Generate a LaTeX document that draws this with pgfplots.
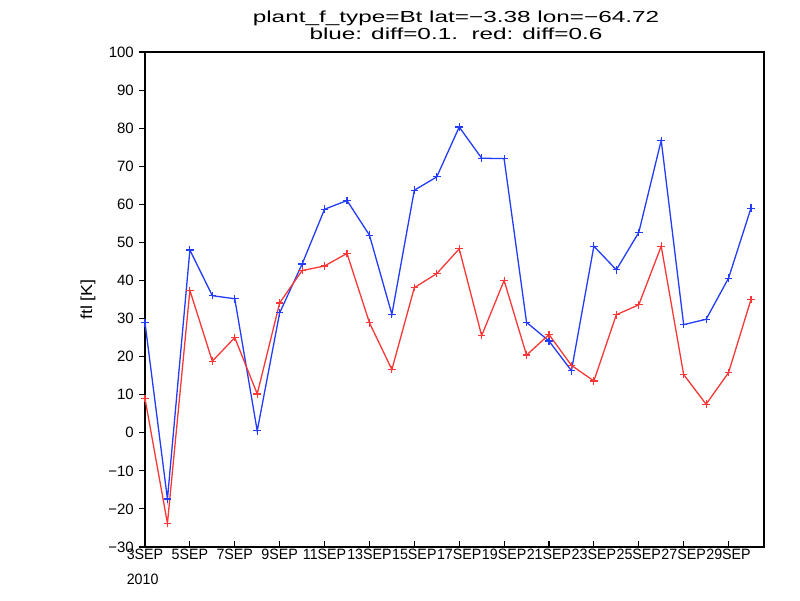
\documentclass[border=0pt]{standalone}
\usepackage{fontspec}
\setmainfont{Liberation Sans}
\newfontfamily\xfont{Liberation Sans}[FakeStretch=0.95]
\newfontfamily\tfont{Liberation Sans}[FakeStretch=1.52]
\newfontfamily\lfont{Liberation Sans}[FakeStretch=1.12]
\usepackage{pgfplots}
\pgfplotsset{compat=1.18}

\definecolor{gblue}{RGB}{35,60,250}
\definecolor{gred}{RGB}{250,55,55}

% daily values, 3 to 30 SEP 2010
\pgfplotstableread{
day blue red
3  28.9   9.0
4  -17.4 -23.8
5  48.0  37.4
6  36.0  18.8
7  35.2  25.0
8  0.5   10.2
9  31.5  34.1
10 44.3  42.6
11 58.7  43.8
12 61.0  47.1
13 51.9  28.9
14 31.1  16.6
15 63.7  38.1
16 67.2  41.8
17 80.3  48.3
18 72.1  25.5
19 72.0  40.0
20 29.0  20.4
21 24.1  25.8
22 16.3  17.7
23 49.0  13.6
24 42.8  31.0
25 52.6  33.6
26 76.8  49.0
27 28.4  15.3
28 29.8   7.5
29 40.6  15.8
30 59.0  35.0
}\ftl

\begin{document}
\begin{tikzpicture}[x=1pt,y=1pt]
\useasboundingbox (-145,-53) rectangle (655,547);
\begin{axis}[
    at={(0,0)}, anchor=south west,
    scale only axis,
    width=619pt, height=495pt,
    xmin=3, xmax=30.58,
    ymin=-30, ymax=100,
    xtick={3,5,...,29},
    xticklabels={3SEP\\2010,5SEP,7SEP,9SEP,11SEP,13SEP,15SEP,17SEP,19SEP,21SEP,23SEP,25SEP,27SEP,29SEP},
    ytick={-30,-20,...,100},
    yticklabels={−30,−20,−10,0,10,20,30,40,50,60,70,80,90,100},
    xtick pos=bottom, ytick pos=left,
    tick align=inside,
    major tick length=6pt,
    minor tick num=0,
    tick style={black, line width=1.1pt},
    ytick style={xshift=-6pt},
    axis line style={line width=1.5pt},
    xticklabel style={font=\xfont\fontsize{15}{25.5}\selectfont, align=left, anchor=north, inner sep=0pt, yshift=-1.5pt},
    yticklabel style={font=\fontsize{15}{18}\selectfont, anchor=east, inner sep=0pt, xshift=-11pt},
    ylabel={ftl [K]},
    ylabel style={font=\lfont\fontsize{16}{18}\selectfont, at={(axis description cs:-0.092,0.5)}, anchor=center},
]
\addplot[color=gblue, line width=1.3pt, mark=+, mark size=3.8pt, mark options={line width=1.2pt}] table[x=day, y=blue] {\ftl};
\addplot[color=gred, line width=1.3pt, mark=+, mark size=3.8pt, mark options={line width=1.2pt}] table[x=day, y=red] {\ftl};
\end{axis}
\node[anchor=base, font=\tfont\fontsize{16}{18}\selectfont] at (311,524) {plant\_f\_type=Bt lat=−3.38 lon=−64.72};
\node[anchor=base, font=\tfont\fontsize{16}{18}\selectfont] at (311,507) {blue: diff=0.1.\ \ red: diff=0.6};
\end{tikzpicture}
\end{document}
